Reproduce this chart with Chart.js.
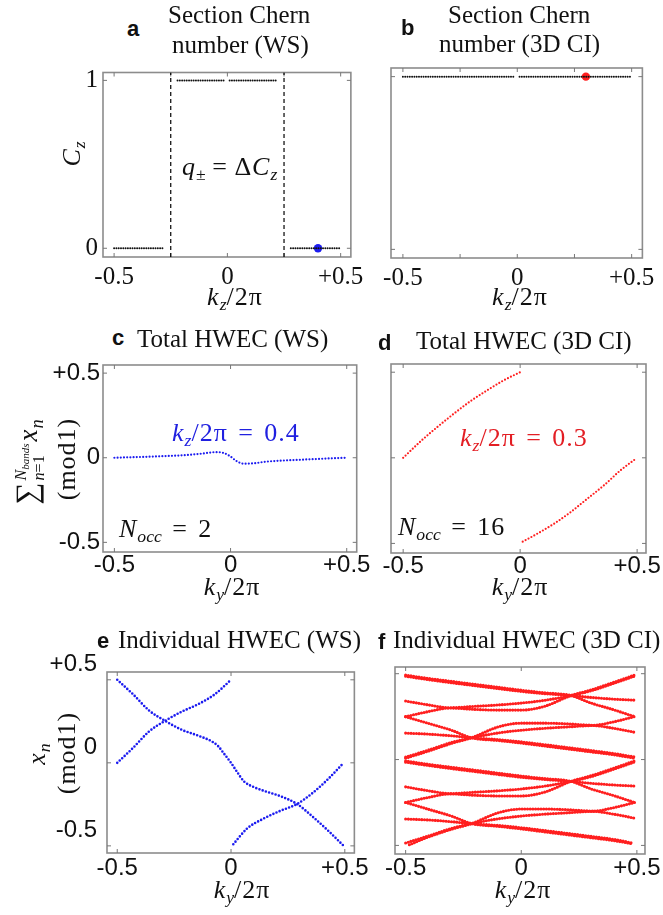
<!DOCTYPE html>
<html lang="en">
<head>
<meta charset="UTF-8">
<title>Section Chern number and hybrid Wannier centres</title>
<script src="https://cdn.jsdelivr.net/npm/chart.js"></script>
<style>
  body { margin: 0; background: #fff; }
  #fig { position: relative; width: 663px; height: 915px; overflow: hidden; background: #fff; }
  #fig canvas { position: absolute; }
  .t { position: absolute; white-space: nowrap; line-height: 1; color: #111; }
  .ttl { font-family: 'Liberation Serif', serif; font-size: 25px; }
  .tag { font-family: 'Liberation Sans', sans-serif; font-weight: bold; font-size: 22px; }
  .m { font-family: 'Liberation Serif', serif; font-size: 26px; letter-spacing: 1px; }
  .m sub { font-size: 0.68em; vertical-align: -0.3em; line-height: 0; letter-spacing: 0; }
  .m .eq { margin: 0 0.4em; }
  .m .eqs { margin: 0 0.25em; }
  .sum { font-size: 27px; }
  .sum .big { font-size: 1.15em; }
  .stk { display: inline-block; vertical-align: middle; font-size: 0.6em; line-height: 1.1; letter-spacing: 0; margin: 0 2px 0 1px; }
  .stk > span { display: block; }
  .ctr { transform: translateX(-50%); }
  .rot { transform: translate(-50%, -50%) rotate(-90deg); }
  .blue { color: #2020e0; }
  .red { color: #e31e24; }
</style>
</head>
<body>
<div id="fig">
  <canvas id="chA" width="372" height="255" style="left:0px;top:55px"></canvas>
  <canvas id="chB" width="333" height="255" style="left:330px;top:55px"></canvas>
  <canvas id="chC" width="372" height="235" style="left:0px;top:350px"></canvas>
  <canvas id="chD" width="333" height="235" style="left:330px;top:350px"></canvas>
  <canvas id="chE" width="372" height="235" style="left:0px;top:650px"></canvas>
  <canvas id="chF" width="333" height="235" style="left:330px;top:650px"></canvas>

  <!-- panel headings -->
  <div class="t tag" style="left:127px;top:18px">a</div>
  <div class="t ttl" style="left:168px;top:2px">Section Chern</div>
  <div class="t ttl" style="left:172px;top:32px">number (WS)</div>
  <div class="t tag" style="left:401px;top:16.5px">b</div>
  <div class="t ttl" style="left:448px;top:2px">Section Chern</div>
  <div class="t ttl" style="left:439px;top:31px">number (3D CI)</div>
  <div class="t tag" style="left:112px;top:326.5px">c</div>
  <div class="t ttl" style="left:137px;top:326px">Total HWEC (WS)</div>
  <div class="t tag" style="left:378px;top:331.5px">d</div>
  <div class="t ttl" style="left:416px;top:328px">Total HWEC (3D CI)</div>
  <div class="t tag" style="left:97px;top:629.5px">e</div>
  <div class="t ttl" style="left:118px;top:627px">Individual HWEC (WS)</div>
  <div class="t tag" style="left:378px;top:630.5px">f</div>
  <div class="t ttl" style="left:393px;top:627px">Individual HWEC (3D CI)</div>

  <!-- axis titles -->
  <div class="t m rot" style="left:72px;top:154px"><i>C</i><sub><i>z</i></sub></div>
  <div class="t m sum rot" style="left:30px;top:462px"><span class="big">∑</span><span class="stk"><span><i>N</i><sub><i>bands</i></sub></span><span><i>n</i>=1</span></span><i>x</i><sub><i>n</i></sub></div>
  <div class="t m rot" style="left:67px;top:459px">(mod1)</div>
  <div class="t m rot" style="left:37px;top:754px"><i>x</i><sub><i>n</i></sub></div>
  <div class="t m rot" style="left:67px;top:753px">(mod1)</div>
  <div class="t m ctr" style="left:235px;top:284px"><i>k</i><sub><i>z</i></sub>/2π</div>
  <div class="t m ctr" style="left:520px;top:284px"><i>k</i><sub><i>z</i></sub>/2π</div>
  <div class="t m ctr" style="left:232px;top:574px"><i>k</i><sub><i>y</i></sub>/2π</div>
  <div class="t m ctr" style="left:520px;top:574px"><i>k</i><sub><i>y</i></sub>/2π</div>
  <div class="t m ctr" style="left:242px;top:877px"><i>k</i><sub><i>y</i></sub>/2π</div>
  <div class="t m ctr" style="left:523px;top:877px"><i>k</i><sub><i>y</i></sub>/2π</div>

  <!-- annotations -->
  <div class="t m" style="left:182px;top:154px"><i>q</i><sub>±</sub><span class="eqs">=</span>Δ<i>C</i><sub><i>z</i></sub></div>
  <div class="t m blue" style="left:172px;top:420px"><i>k</i><sub><i>z</i></sub>/2π<span class="eq">=</span>0.4</div>
  <div class="t m" style="left:119px;top:516px"><i>N</i><sub><i>occ</i></sub><span class="eq">=</span>2</div>
  <div class="t m red" style="left:460px;top:425px"><i>k</i><sub><i>z</i></sub>/2π<span class="eq">=</span>0.3</div>
  <div class="t m" style="left:398px;top:514px"><i>N</i><sub><i>occ</i></sub><span class="eq">=</span>16</div>
</div>

<script>
// tick values
const kTicks = [-0.5, 0, 0.5];
const kTicksQuarter = [-0.5, -0.25, 0, 0.25, 0.5];
const chernTicks = [0, 1];
const wannierTicks = [-0.5, 0, 0.5];

// (a) section Chern number of the Weyl semimetal, [kz/2pi, Cz]
const wsChernLeft = [[-0.5, 0], [-0.28, 0]];
const wsChernMidL = [[-0.22, 1], [-0.01, 1]];
const wsChernMidR = [[0.01, 1], [0.22, 1]];
const wsChernRight = [[0.28, 0], [0.5, 0]];
const wsWeylNodes = [-0.25, 0.25];
const wsCut = [[0.4, 0]];

// (b) section Chern number of the 3D Chern insulator
const ciChernLeft = [[-0.5, 1], [-0.01, 1]];
const ciChernRight = [[0.01, 1], [0.5, 1]];
const ciCut = [[0.3, 1]];

// (c) total HWEC, WS at kz/2pi = 0.4, [ky/2pi, sum x_n]
const wsTotal = [[-0.5, 0], [-0.4, 0.004], [-0.275, 0.01], [-0.2, 0.015], [-0.132, 0.023],
  [-0.06, 0.033], [-0.032, 0.029], [-0.003, 0.01], [0.026, -0.02], [0.055, -0.035],
  [0.098, -0.033], [0.155, -0.023], [0.3, -0.012], [0.427, -0.004], [0.5, 0]];

// (d) total HWEC, 3D CI at kz/2pi = 0.3
const ciTotalUpper = [[-0.5, 0], [-0.424, 0.098], [-0.353, 0.181], [-0.281, 0.26],
  [-0.21, 0.333], [-0.139, 0.396], [-0.068, 0.454], [0, 0.5]];
const ciTotalLower = [[0.011, -0.49], [0.075, -0.442], [0.146, -0.384], [0.217, -0.316],
  [0.288, -0.238], [0.359, -0.16], [0.43, -0.072], [0.49, -0.01]];

// (e) individual HWEC, WS
const wsBand1 = [[-0.5, 0.5], [-0.43, 0.412], [-0.36, 0.315], [-0.29, 0.253], [-0.215, 0.198],
  [-0.143, 0.163], [-0.086, 0.13], [-0.057, 0.101], [-0.029, 0.052], [0, 0], [0.029, -0.06],
  [0.057, -0.112], [0.1, -0.146], [0.143, -0.168], [0.215, -0.2], [0.29, -0.248],
  [0.36, -0.326], [0.43, -0.413], [0.495, -0.5]];
const wsBand2a = [[-0.5, 0], [-0.43, 0.091], [-0.36, 0.189], [-0.29, 0.253], [-0.215, 0.309],
  [-0.143, 0.354], [-0.072, 0.412], [0, 0.5]];
const wsBand2b = [[0.01, -0.49], [0.072, -0.394], [0.143, -0.336], [0.215, -0.29],
  [0.29, -0.248], [0.36, -0.18], [0.43, -0.093], [0.495, 0]];

// (f) individual HWEC, 3D CI (16 occupied bands), upper half x_n > 0
const ciBand1 = [[-0.5, 0.492], [-0.4, 0.472], [-0.3, 0.455], [-0.2, 0.438], [-0.1, 0.421], [0, 0.404], [0.1, 0.389], [0.215, 0.373], [0.3, 0.33], [0.4, 0.29], [0.49, 0.25]];
const ciBand2 = [[-0.5, 0.485], [-0.4, 0.465], [-0.3, 0.447], [-0.2, 0.43], [-0.1, 0.413], [0, 0.397], [0.1, 0.384], [0.215, 0.373], [0.3, 0.362], [0.4, 0.352], [0.49, 0.346]];
const ciBand3 = [[-0.5, 0.341], [-0.4, 0.318], [-0.31, 0.302], [-0.2, 0.31], [-0.1, 0.318], [0, 0.329], [0.1, 0.345], [0.215, 0.373], [0.3, 0.4], [0.4, 0.444], [0.49, 0.486]];
const ciBand4 = [[-0.5, 0.25], [-0.4, 0.28], [-0.31, 0.3], [-0.2, 0.292], [-0.1, 0.288], [0, 0.288], [0.1, 0.31], [0.215, 0.373], [0.3, 0.405], [0.4, 0.45], [0.49, 0.492]];
const ciBand5 = [[-0.5, 0.25], [-0.4, 0.21], [-0.3, 0.17], [-0.215, 0.127], [-0.1, 0.111], [0, 0.096], [0.1, 0.079], [0.2, 0.062], [0.3, 0.045], [0.4, 0.028], [0.49, 0.008]];
const ciBand6 = [[-0.5, 0.154], [-0.4, 0.148], [-0.3, 0.138], [-0.215, 0.127], [-0.1, 0.116], [0, 0.103], [0.1, 0.087], [0.2, 0.07], [0.3, 0.053], [0.4, 0.035], [0.49, 0.015]];
const ciBand7 = [[-0.5, 0.014], [-0.4, 0.056], [-0.3, 0.1], [-0.215, 0.127], [-0.1, 0.155], [0, 0.171], [0.1, 0.182], [0.2, 0.19], [0.31, 0.198], [0.4, 0.182], [0.49, 0.159]];
const ciBand8 = [[-0.5, 0.008], [-0.4, 0.05], [-0.3, 0.095], [-0.215, 0.127], [-0.1, 0.19], [0, 0.212], [0.1, 0.212], [0.2, 0.208], [0.31, 0.2], [0.4, 0.22], [0.49, 0.25]];
// lower half x_n < 0
const ciBand9 = [[-0.5, -0.008], [-0.4, -0.028], [-0.3, -0.045], [-0.2, -0.062], [-0.1, -0.079], [0, -0.096], [0.1, -0.111], [0.215, -0.127], [0.3, -0.17], [0.4, -0.21], [0.49, -0.25]];
const ciBand10 = [[-0.5, -0.015], [-0.4, -0.035], [-0.3, -0.053], [-0.2, -0.07], [-0.1, -0.087], [0, -0.103], [0.1, -0.116], [0.215, -0.127], [0.3, -0.138], [0.4, -0.148], [0.49, -0.154]];
const ciBand11 = [[-0.5, -0.159], [-0.4, -0.182], [-0.31, -0.198], [-0.2, -0.19], [-0.1, -0.182], [0, -0.171], [0.1, -0.155], [0.215, -0.127], [0.3, -0.1], [0.4, -0.056], [0.49, -0.014]];
const ciBand12 = [[-0.5, -0.25], [-0.4, -0.22], [-0.31, -0.2], [-0.2, -0.208], [-0.1, -0.212], [0, -0.212], [0.1, -0.19], [0.215, -0.127], [0.3, -0.095], [0.4, -0.05], [0.49, -0.008]];
const ciBand13 = [[-0.5, -0.25], [-0.4, -0.29], [-0.3, -0.33], [-0.215, -0.373], [-0.1, -0.389], [0, -0.404], [0.1, -0.421], [0.2, -0.438], [0.3, -0.455], [0.4, -0.472], [0.477, -0.49]];
const ciBand14 = [[-0.5, -0.346], [-0.4, -0.352], [-0.3, -0.362], [-0.215, -0.373], [-0.1, -0.384], [0, -0.397], [0.1, -0.413], [0.2, -0.43], [0.3, -0.447], [0.4, -0.465], [0.477, -0.485]];
const ciBand15 = [[-0.484, -0.496], [-0.4, -0.45], [-0.3, -0.405], [-0.215, -0.373], [-0.1, -0.31], [0, -0.288], [0.1, -0.288], [0.2, -0.292], [0.31, -0.3], [0.4, -0.28], [0.49, -0.25]];
const ciBand16 = [[-0.5, -0.486], [-0.4, -0.444], [-0.3, -0.4], [-0.215, -0.373], [-0.1, -0.345], [0, -0.329], [0.1, -0.318], [0.2, -0.31], [0.31, -0.302], [0.4, -0.318], [0.49, -0.341]];
const ciBands = [ciBand1, ciBand2, ciBand3, ciBand4, ciBand5, ciBand6, ciBand7, ciBand8,
  ciBand9, ciBand10, ciBand11, ciBand12, ciBand13, ciBand14, ciBand15, ciBand16];

const BLUE = '#1c1cf0';
const RED = '#ff1f1f';
const serifTicks = { family: 'Liberation Serif', size: 25, lineHeight: 1 };
const sansTicks = { family: 'Liberation Sans', size: 24, lineHeight: 1 };

const pts = arr => arr.map(([x, y]) => ({ x, y }));
const signed = v => v === 0 ? '0' : (v > 0 ? '+' + v : String(v));
const halvesOnly = v => Math.abs(v) === 0.25 ? '' : signed(v);

// dotted curve: zero-length dashes with round caps leave a row of dots
function dots(arr, color, size, gap) {
  return {
    data: pts(arr), showLine: true, borderColor: color, borderWidth: size,
    borderDash: [0, gap], borderCapStyle: 'round', pointRadius: 0,
    cubicInterpolationMode: 'monotone'
  };
}
function marker(arr, color) {
  return { data: pts(arr), showLine: false, pointRadius: 4.2, pointBackgroundColor: color, pointBorderWidth: 0 };
}
function vline(kz, y0, y1) {
  return { data: pts([[kz, y0], [kz, y1]]), showLine: true, borderColor: '#000', borderWidth: 1.2,
    borderDash: [4, 3], pointRadius: 0 };
}

// grey box with small inward ticks on all four sides
const frame = {
  id: 'frame',
  beforeDatasetsDraw(chart) {
    const { ctx, chartArea: a, scales: { x, y } } = chart;
    ctx.save();
    ctx.strokeStyle = '#8c8c8c';
    ctx.lineWidth = 1.6;
    ctx.strokeRect(a.left, a.top, a.right - a.left, a.bottom - a.top);
    ctx.strokeStyle = '#777';
    ctx.lineWidth = 1;
    ctx.beginPath();
    x.ticks.forEach(t => {
      const p = x.getPixelForValue(t.value);
      ctx.moveTo(p, a.bottom); ctx.lineTo(p, a.bottom - 4);
      ctx.moveTo(p, a.top); ctx.lineTo(p, a.top + 4);
    });
    y.ticks.forEach(t => {
      const p = y.getPixelForValue(t.value);
      ctx.moveTo(a.left, p); ctx.lineTo(a.left + 4, p);
      ctx.moveTo(a.right, p); ctx.lineTo(a.right - 4, p);
    });
    ctx.stroke();
    ctx.restore();
  }
};

// box = [left, top, right, bottom] of the plot frame in page pixels
function panel(id, box, xr, yr, datasets, o) {
  const cv = document.getElementById(id);
  const cl = parseFloat(cv.style.left), ct = parseFloat(cv.style.top);
  return new Chart(cv, {
    type: 'scatter',
    data: { datasets },
    options: {
      responsive: false, animation: false, events: [],
      layout: { padding: { left: 0, top: box[1] - ct, right: cl + cv.width - box[2], bottom: 0 } },
      plugins: { legend: { display: false }, tooltip: { enabled: false } },
      scales: {
        x: {
          type: 'linear', min: xr[0], max: xr[1],
          grid: { display: false, drawTicks: false }, border: { display: false },
          afterBuildTicks: s => { s.ticks = o.xTicks.map(value => ({ value })); },
          afterFit: s => { s.height = ct + cv.height - box[3]; },
          ticks: { padding: o.xPad, font: o.font, color: '#111', maxRotation: 0, autoSkip: false, callback: o.xFmt }
        },
        y: {
          type: 'linear', min: yr[0], max: yr[1],
          grid: { display: false, drawTicks: false }, border: { display: false },
          afterBuildTicks: s => { s.ticks = o.yTicks.map(value => ({ value })); },
          afterFit: s => { s.width = box[0] - cl; },
          ticks: { display: o.yLabels, padding: o.yPad || 4, labelOffset: o.yShift || 0, font: o.font,
            color: '#111', autoSkip: false, callback: o.yFmt || signed }
        }
      }
    },
    plugins: [frame]
  });
}

// a
const aY = [-0.052, 1.047];
panel('chA', [103, 68, 356, 257], [-0.549, 0.545], aY, [
  ...wsWeylNodes.map(k => vline(k, aY[0], aY[1])),
  dots(wsChernLeft, '#111', 2, 2.3),
  dots(wsChernMidL, '#111', 2, 2.3),
  dots(wsChernMidR, '#111', 2, 2.3),
  dots(wsChernRight, '#111', 2, 2.3),
  marker(wsCut, BLUE)
], { xTicks: kTicksQuarter, yTicks: chernTicks, font: serifTicks, xPad: 8, yPad: 5,
     yLabels: true, xFmt: halvesOnly, yFmt: v => String(v) });

// b
panel('chB', [391, 68, 647, 258], [-0.552, 0.547], [-0.05, 1.05], [
  dots(ciChernLeft, '#111', 2, 2.3),
  dots(ciChernRight, '#111', 2, 2.3),
  marker(ciCut, RED)
], { xTicks: kTicksQuarter, yTicks: chernTicks, font: serifTicks, xPad: 8, yLabels: false, xFmt: halvesOnly });

// c
panel('chC', [103, 363, 357, 552], [-0.549, 0.543], [-0.557, 0.548], [
  dots(wsTotal, BLUE, 2.2, 3.2)
], { xTicks: kTicks, yTicks: wannierTicks, font: sansTicks, xPad: 1, yPad: 3, yLabels: true, xFmt: signed });

// d
panel('chD', [391, 364, 646, 553], [-0.552, 0.538], [-0.556, 0.548], [
  dots(ciTotalUpper, RED, 2.2, 3.3),
  dots(ciTotalLower, RED, 2.2, 3.3)
], { xTicks: kTicks, yTicks: wannierTicks, font: sansTicks, xPad: 1, yLabels: false, xFmt: signed });

// e
panel('chE', [107, 666, 359, 853], [-0.545, 0.542], [-0.543, 0.547], [
  dots(wsBand1, BLUE, 2.6, 3.4),
  dots(wsBand2a, BLUE, 2.6, 3.4),
  dots(wsBand2b, BLUE, 2.6, 3.4)
], { xTicks: kTicks, yTicks: wannierTicks, font: sansTicks, xPad: 3, yPad: 10, yShift: -15, yLabels: true, xFmt: signed });

// f
panel('chF', [395, 667, 650, 854], [-0.546, 0.535], [-0.55, 0.539],
  ciBands.map(b => dots(b, RED, 3.1, 2.7)),
  { xTicks: kTicks, yTicks: wannierTicks, font: sansTicks, xPad: 2, yLabels: false, xFmt: signed });
</script>
</body>
</html>
